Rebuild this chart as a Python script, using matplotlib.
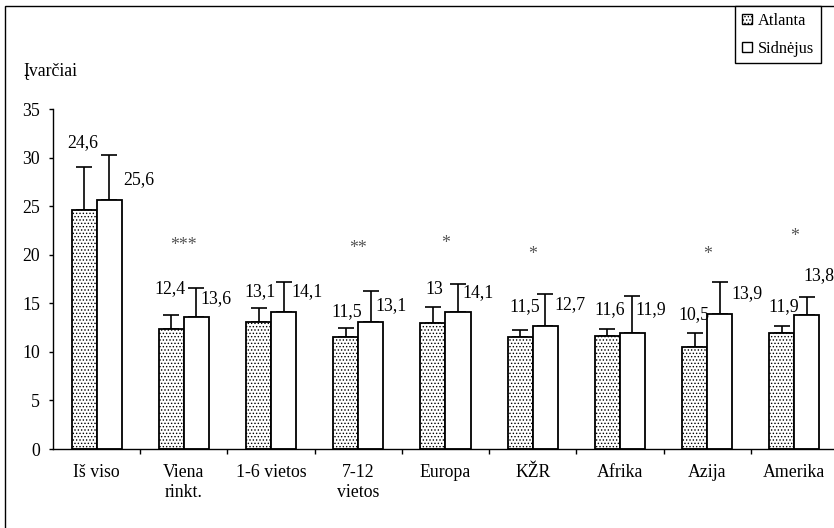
import matplotlib
matplotlib.use('Agg')
import matplotlib.pyplot as plt
from matplotlib.patches import Patch, Rectangle
import numpy as np

# goals per match: Atlanta vs Sydney
categories = ['Iš viso', 'Viena\nrinkt.', '1-6 vietos', '7-12\nvietos', 'Europa',
              'KŽR', 'Afrika', 'Azija', 'Amerika']
atlanta = [24.6, 12.4, 13.1, 11.5, 13.0, 11.5, 11.6, 10.5, 11.9]
sydney = [25.6, 13.6, 14.1, 13.1, 14.1, 12.7, 11.9, 13.9, 13.8]
atlanta_err = [4.4, 1.4, 1.4, 1.0, 1.6, 0.7, 0.8, 1.4, 0.8]
sydney_err = [4.7, 3.0, 3.1, 3.2, 2.9, 3.3, 3.9, 3.3, 1.8]
signif = ['', '***', '', '**', '*', '*', '', '*', '*']

# hand placed value labels (x offset from category centre, y in data units)
atl_lab_dx = [-0.156, -0.159, -0.127, -0.129, -0.124, -0.089, -0.114, -0.157, -0.119]
atl_lab_y = [31.5, 16.5, 16.2, 14.1, 16.4, 14.7, 14.4, 13.8, 14.7]
syd_lab_dx = [0.486, 0.369, 0.409, 0.375, 0.378, 0.428, 0.356, 0.457, 0.277]
syd_lab_y = [27.7, 15.5, 16.2, 14.8, 16.1, 14.9, 14.4, 16.0, 17.9]
star_y = [0, 21.3, 0, 21.0, 21.6, 20.4, 0, 20.4, 22.3]

plt.rcParams['font.family'] = ['Liberation Serif', 'DejaVu Serif']
plt.rcParams['font.size'] = 12.8
plt.rcParams['hatch.color'] = 'black'
plt.rcParams['hatch.linewidth'] = 0.6


def fmt(v):
    s = ('%.1f' % v).rstrip('0').rstrip('.')
    return s.replace('.', ',')


fig = plt.figure(figsize=(8.34, 5.28), dpi=100)
ax = fig.add_axes([53 / 834, 1 - 449 / 528, 785 / 834, 340 / 528])

x = np.arange(len(categories))
w = 0.287

ax.bar(x - w / 2, atlanta, w, color='white', edgecolor='black', linewidth=1.3,
       hatch='.....', zorder=2)
ax.bar(x + w / 2, sydney, w, color='white', edgecolor='black', linewidth=1.3, zorder=2)

lower = np.zeros(len(x))
ax.errorbar(x - w / 2, atlanta, yerr=[lower, atlanta_err], fmt='none', ecolor='black',
            elinewidth=1.2, capsize=5.5, capthick=1.2, zorder=1)
ax.errorbar(x + w / 2, sydney, yerr=[lower, sydney_err], fmt='none', ecolor='black',
            elinewidth=1.2, capsize=5.5, capthick=1.2, zorder=1)

for i in range(len(x)):
    ax.text(i + atl_lab_dx[i], atl_lab_y[i], fmt(atlanta[i]), ha='center', va='center')
    ax.text(i + syd_lab_dx[i], syd_lab_y[i], fmt(sydney[i]), ha='center', va='center')
    if signif[i]:
        ax.text(i, star_y[i] - 0.4, signif[i], ha='center', va='center', color='#555555')

ax.set_xlim(-0.5, 8.5)
ax.set_ylim(0, 35)
ax.set_yticks(np.arange(0, 36, 5))
ax.set_xticks(x)
ax.set_xticklabels(categories)
ax.set_xticks(np.arange(0.5, 8.5, 1), minor=True)
ax.tick_params(axis='x', which='major', length=0, pad=10.5)
ax.tick_params(axis='x', which='minor', length=3.6, width=1, direction='out')
ax.tick_params(axis='y', length=2.8, width=1, pad=6.5)
for lbl in ax.get_xticklabels():
    lbl.set_linespacing(1.3)

for s in ['top', 'right']:
    ax.spines[s].set_visible(False)
for s in ['left', 'bottom']:
    ax.spines[s].set_linewidth(1.0)
ax.spines['bottom'].set_clip_on(False)

fig.text(23 / 834, 1 - 72 / 528, 'Įvarčiai', ha='left', va='center')

# outer chart frame
fig.patches.append(Rectangle((5 / 834, -0.5), 2, 1.5 - 6 / 528, fill=False,
                             edgecolor='black', linewidth=1.0,
                             transform=fig.transFigure, clip_on=False))

handles = [Patch(facecolor='white', edgecolor='black', hatch='.....', label='Atlanta'),
           Patch(facecolor='white', edgecolor='black', label='Sidnėjus')]
leg = fig.legend(handles=handles, loc='upper right', bbox_to_anchor=(821 / 834, 1 - 6 / 528),
                 fancybox=False, edgecolor='black', framealpha=1, borderaxespad=0,
                 fontsize=11.8, handlelength=0.6, handleheight=0.6, handletextpad=0.4,
                 borderpad=0.4, labelspacing=0.75)
leg.get_frame().set_linewidth(1.0)

plt.savefig('out.png', dpi=100)
plt.close()
